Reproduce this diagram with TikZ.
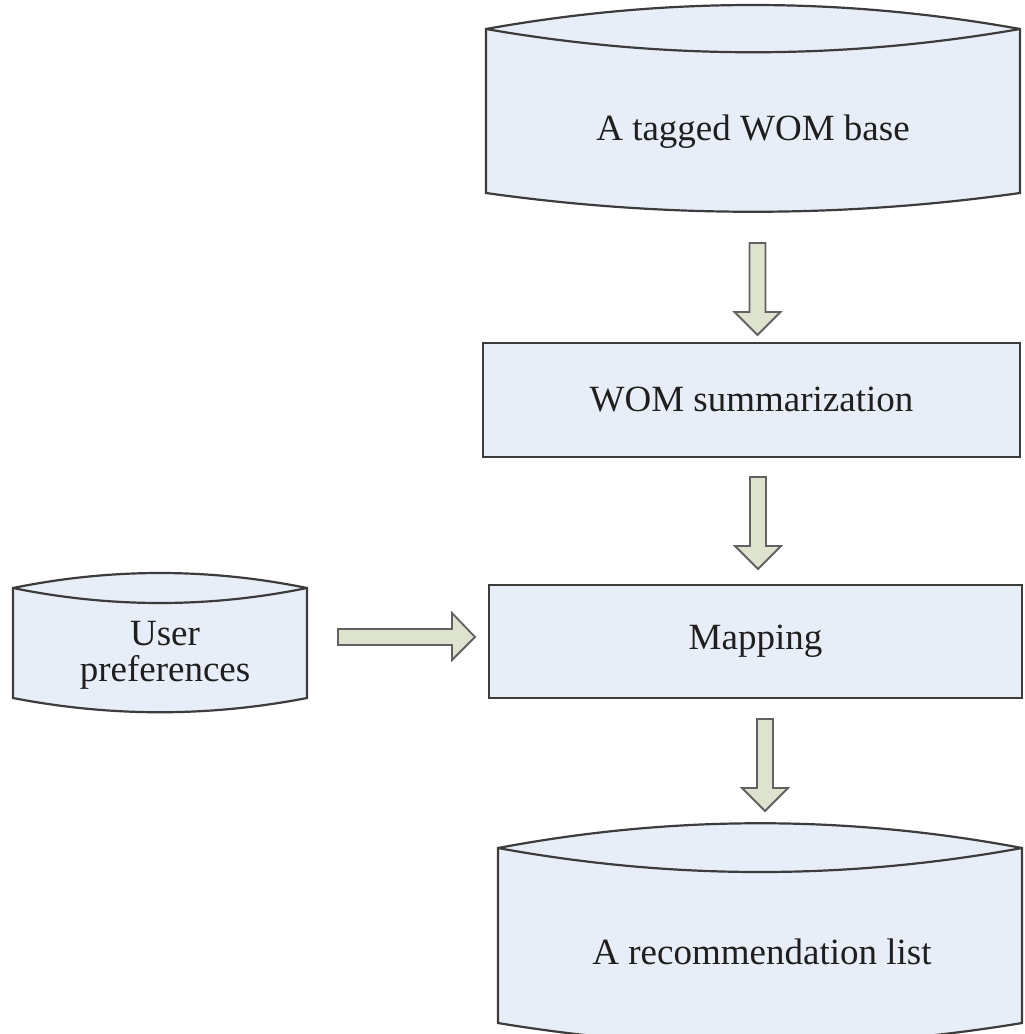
\documentclass[tikz,border=0pt]{standalone}
\usepackage{fontspec}
\setmainfont{Liberation Serif}
\definecolor{boxfill}{HTML}{E8EEF7}
\definecolor{arrfill}{HTML}{DEE3CF}
\definecolor{edgecol}{HTML}{3C3C3C}
\begin{document}
\begin{tikzpicture}[x=0.5pt,y=-0.5pt,
  dbshape/.style={draw=edgecol, fill=boxfill, line width=1.1pt, line join=miter},
  procbox/.style={draw=edgecol, fill=boxfill, line width=1.2pt, rectangle, inner sep=0pt,
    font=\fontsize{18.5}{18}\selectfont, text=black!88},
  lbl/.style={font=\fontsize{18.5}{18}\selectfont, text=black!88, align=center, inner sep=0pt},
  blockarrow/.style={draw=black!62, fill=arrfill, line width=0.9pt, line join=miter},
  downarr/.pic={\draw[blockarrow] (-8,0) -- (-8,69) -- (-23,69) -- (0,92) -- (23,69) -- (8,69) -- (8,0) -- cycle;}]
\useasboundingbox (0,0) rectangle (1024,1034);
\clip (0,0) rectangle (1024,1034);

% A tagged WOM base (cylinder)
\path[dbshape] (486,29) .. controls (664,-3) and (842,-3) .. (1020,29) -- (1020,193)
  .. controls (842,218) and (664,218) .. (486,193) -- cycle;
\draw[dbshape, fill=none] (486,29) .. controls (664,60) and (842,60) .. (1020,29);
\node[lbl] (wombase) at (753,132) {A tagged WOM base};

% WOM summarization
\node[procbox, minimum width=268.5pt, minimum height=57pt] (summ) at (751.5,400) {WOM summarization};

% Mapping
\node[procbox, minimum width=266.5pt, minimum height=56.5pt] (mapping) at (755.5,641.5) {Mapping};

% User preferences (cylinder)
\path[dbshape] (13,588) .. controls (111,568) and (209,568) .. (307,588) -- (307,698)
  .. controls (209,717) and (111,717) .. (13,698) -- cycle;
\draw[dbshape, fill=none] (13,588) .. controls (111,608) and (209,608) .. (307,588);
\node[lbl] (userpref) at (165,655) {User\\preferences};

% A recommendation list (cylinder)
\path[dbshape] (498,848) .. controls (673,815) and (847,815) .. (1022,848) -- (1022,1023)
  .. controls (847,1052) and (673,1052) .. (498,1023) -- cycle;
\draw[dbshape, fill=none] (498,848) .. controls (673,880) and (847,880) .. (1022,848);
\node[lbl] (reclist) at (762,952) {A recommendation list};

% block arrows
\pic (arr1) at (757.5,243) {downarr};
\pic (arr2) at (758,477) {downarr};
\pic (arr3) at (765,719) {downarr};
\draw[blockarrow] (338,629) -- (452,629) -- (452,613) -- (475,637) -- (452,660) -- (452,645) -- (338,645) -- cycle;
\end{tikzpicture}
\end{document}
